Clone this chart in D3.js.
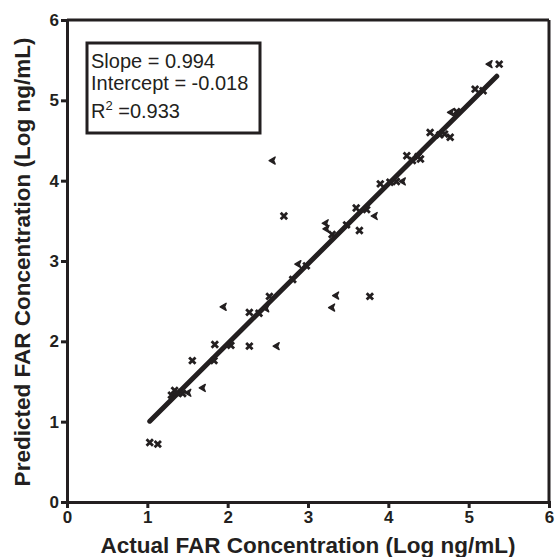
<!DOCTYPE html>
<html>
<head>
<meta charset="utf-8">
<script src="https://cdn.jsdelivr.net/npm/d3@7"></script>
<style>
  body { margin: 0; background: #fff; }
  svg { display: block; font-family: "Liberation Sans", Arial, sans-serif; }
</style>
</head>
<body>
<svg id="canvas" width="555" height="557"></svg>
<script>
// actual vs predicted, log ng/mL
const crossPoints = [
  [1.03, 0.74], [1.13, 0.72],
  [1.30, 1.33], [1.34, 1.39], [1.37, 1.36], [1.44, 1.35],
  [1.56, 1.76], [1.83, 1.76],
  [1.84, 1.96], [2.04, 1.95], [2.27, 1.94],
  [2.27, 2.36], [2.39, 2.35],
  [2.52, 2.56], [2.81, 2.77], [2.98, 2.94],
  [2.70, 3.56],
  [3.30, 3.33], [3.48, 3.45], [3.64, 3.38],
  [3.60, 3.66], [3.73, 3.64],
  [3.77, 2.56],
  [3.90, 3.96], [4.02, 3.98], [4.10, 3.99],
  [4.23, 4.31], [4.37, 4.30], [4.30, 4.25], [4.40, 4.27],
  [4.52, 4.60], [4.64, 4.57], [4.70, 4.58], [4.77, 4.54],
  [4.85, 4.86],
  [5.08, 5.14], [5.18, 5.12],
  [5.38, 5.45]
];
const arrowPoints = [
  [1.51, 1.36], [1.69, 1.42],
  [1.95, 2.43], [2.48, 2.41], [2.61, 1.94],
  [2.56, 4.25], [2.88, 2.96],
  [3.22, 3.47], [3.23, 3.40],
  [3.35, 2.57], [3.30, 2.42],
  [3.83, 3.56], [4.18, 3.99],
  [4.78, 4.85], [5.26, 5.45]
];
const ticks = [0, 1, 2, 3, 4, 5, 6];
const slope = 0.994;
const intercept = -0.018;
const fitRange = [1.03, 5.35];
const statLines = ["Slope = 0.994", "Intercept = -0.018"];
const rSquared = "0.933";
const xTitle = "Actual FAR Concentration (Log ng/mL)";
const yTitle = "Predicted FAR Concentration (Log ng/mL)";

const ink = "#231f20";
const canvas = d3.select("#canvas");

const x = d3.scaleLinear().domain([0, 6]).range([67, 549]);
const y = d3.scaleLinear().domain([0, 6]).range([502, 20]);

// frame top/right
canvas.append("line")
  .attr("x1", x(0)).attr("x2", x(6)).attr("y1", y(6)).attr("y2", y(6))
  .attr("stroke", ink).attr("stroke-width", 3);
canvas.append("line")
  .attr("x1", x(6)).attr("x2", x(6)).attr("y1", y(6)).attr("y2", y(0))
  .attr("stroke", ink).attr("stroke-width", 3);

const xAxis = canvas.append("g")
  .attr("transform", `translate(0,${y(0)})`)
  .call(d3.axisBottom(x).tickValues(ticks).tickSize(6).tickPadding(3).tickFormat(d3.format("d")));
const yAxis = canvas.append("g")
  .attr("transform", `translate(${x(0)},0)`)
  .call(d3.axisLeft(y).tickValues(ticks).tickSize(6).tickPadding(2).tickFormat(d3.format("d")));

[xAxis, yAxis].forEach(g => {
  g.select(".domain").attr("stroke", ink).attr("stroke-width", 3);
  g.selectAll(".tick line").attr("stroke", ink).attr("stroke-width", 3);
  g.selectAll(".tick text")
    .attr("fill", ink)
    .style("font-size", "17px")
    .style("font-weight", "bold");
});

// regression line
canvas.append("line")
  .attr("x1", x(fitRange[0])).attr("y1", y(slope * fitRange[0] + intercept))
  .attr("x2", x(fitRange[1])).attr("y2", y(slope * fitRange[1] + intercept))
  .attr("stroke", ink).attr("stroke-width", 5).attr("stroke-linecap", "round");

// cross markers
canvas.selectAll("path.cross").data(crossPoints).enter()
  .append("path")
  .attr("class", "cross")
  .attr("d", "M-3.2,-3.2L3.2,3.2M-3.2,3.2L3.2,-3.2")
  .attr("transform", d => `translate(${x(d[0])},${y(d[1])})`)
  .attr("stroke", ink).attr("stroke-width", 2.8).attr("fill", "none");

// left-pointing markers
canvas.selectAll("path.arrow").data(arrowPoints).enter()
  .append("path")
  .attr("class", "arrow")
  .attr("d", "M-3.5,0L2.5,-3.5L1,0L2.5,3.5Z")
  .attr("transform", d => `translate(${x(d[0])},${y(d[1])})`)
  .attr("fill", ink).attr("stroke", ink).attr("stroke-width", 1.4).attr("stroke-linejoin", "round");

// stats box
canvas.append("rect")
  .attr("x", 87).attr("y", 43).attr("width", 173).attr("height", 90)
  .attr("fill", "#fff").attr("stroke", ink).attr("stroke-width", 3);
const stats = canvas.append("g").attr("fill", ink).style("font-size", "20px");
stats.selectAll("text.stat").data(statLines).enter()
  .append("text")
  .attr("class", "stat")
  .attr("x", 91)
  .attr("y", (d, i) => 68 + i * 22)
  .text(d => d);
const r2 = stats.append("text").attr("x", 91).attr("y", 118);
r2.append("tspan").text("R");
r2.append("tspan").attr("dy", -8).style("font-size", "13px").text("2");
r2.append("tspan").attr("dy", 8).text(" =" + rSquared);

// axis titles
canvas.append("text")
  .attr("x", 308).attr("y", 553)
  .attr("text-anchor", "middle")
  .attr("fill", ink)
  .style("font-size", "22.5px").style("font-weight", "bold")
  .text(xTitle);
canvas.append("text")
  .attr("transform", `translate(30,262) rotate(-90)`)
  .attr("text-anchor", "middle")
  .attr("fill", ink)
  .style("font-size", "22.5px").style("font-weight", "bold")
  .text(yTitle);
</script>
</body>
</html>
